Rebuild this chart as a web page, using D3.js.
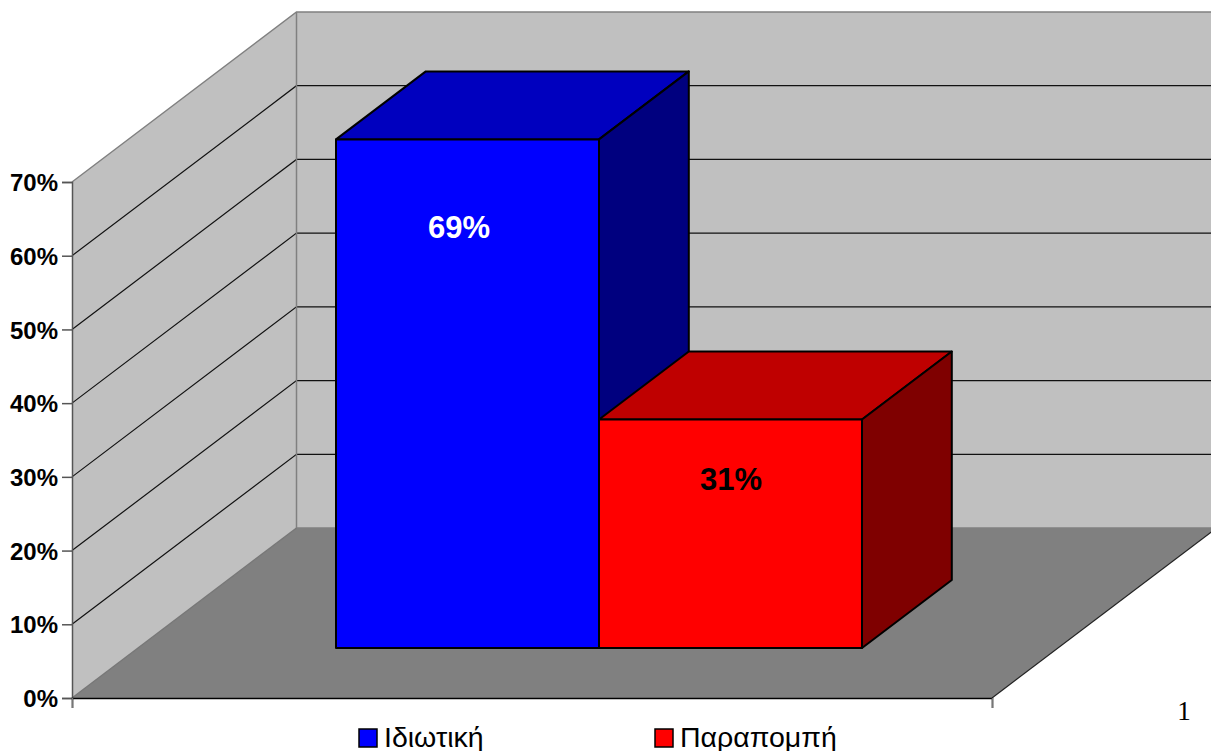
<!DOCTYPE html>
<html>
<head>
<meta charset="utf-8">
<script src="https://cdn.jsdelivr.net/npm/d3@7"></script>
<style>
html, body { margin: 0; padding: 0; background: #fff; overflow: hidden; }
svg { display: block; }
text { font-family: "Liberation Sans", Arial, sans-serif; }
</style>
</head>
<body>
<div id="chart"></div>
<script>
const categories = ['Ιδιωτική', 'Παραπομπή'];
const values = [0.69, 0.31];
const barColors = ['#0000ff', '#ff0000'];
const topColors = ['#0000bf', '#bf0000'];
const sideColors = ['#00007f', '#7f0000'];
const labelColors = ['#ffffff', '#000000'];
const yTicks = [0, 0.1, 0.2, 0.3, 0.4, 0.5, 0.6, 0.7];
const pageNumber = '1';

let svg = d3.select('#chart').append('svg')
    .attr('width', 1211)
    .attr('height', 751);

// Scales, y and x on the front plane, z runs from front to back of the box
let y = d3.scaleLinear().domain([0, 0.7]).range([698, 182]);
let x = d3.scaleLinear().domain([0, 1]).range([72, 992]);
let zx = d3.scaleLinear().domain([0, 1]).range([0, 224.5]);
let zy = d3.scaleLinear().domain([0, 1]).range([0, -170]);
let band = d3.scaleBand().domain(categories).range([270, 796]);

// bars stand in this part of the depth
let zFront = 0.294;
let zBack = 0.694;

function pt(px, v, z) {
    return [px + zx(z), y(v) + zy(z)];
}
let poly = d3.line();
function face(points) {
    return poly(points) + 'Z';
}

let x0 = x(0), x1 = x(1);
let yMax = y.domain()[1];

// Walls and floor
svg.append('path')
    .attr('d', face([pt(x0, 0, 0), pt(x0, yMax, 0), pt(x0, yMax, 1), pt(x0, 0, 1)]))
    .attr('fill', '#c0c0c0');
svg.append('path')
    .attr('d', face([pt(x0, 0, 1), pt(x0, yMax, 1), pt(x1, yMax, 1), pt(x1, 0, 1)]))
    .attr('fill', '#c0c0c0');
svg.append('path')
    .attr('d', face([pt(x0, 0, 0), pt(x1, 0, 0), pt(x1, 0, 1), pt(x0, 0, 1)]))
    .attr('fill', '#808080');

// Grid lines on both walls
let grid = svg.append('g').attr('fill', 'none').attr('stroke', '#111').attr('stroke-width', 1.2);
yTicks.filter(function (t) { return t > 0 && t < yMax; }).forEach(function (t) {
    grid.append('path').attr('d', poly([pt(x0, t, 0), pt(x0, t, 1), pt(x1, t, 1)]));
});

// Wall edges
let edges = svg.append('g').attr('fill', 'none').attr('stroke', '#808080').attr('stroke-width', 1.5);
edges.append('path').attr('d', poly([pt(x0, yMax, 0), pt(x0, yMax, 1), pt(x1, yMax, 1)]));
edges.append('path').attr('d', poly([pt(x0, yMax, 1), pt(x0, 0, 1), pt(x1, 0, 1)]));
edges.append('path').attr('d', poly([pt(x0, 0, 0), pt(x0, 0, 1)])).attr('stroke', '#777');
svg.append('path')
    .attr('d', poly([pt(x1, 0, 0), pt(x1, 0, 1)]))
    .attr('fill', 'none').attr('stroke', '#222').attr('stroke-width', 1.2);

// Bars
categories.forEach(function (c, i) {
    let left = band(c), right = left + band.bandwidth(), v = values[i];
    let g = svg.append('g').attr('stroke', '#000').attr('stroke-width', 2).attr('stroke-linejoin', 'round');
    g.append('path')
        .attr('d', face([pt(left, v, zFront), pt(left, v, zBack), pt(right, v, zBack), pt(right, v, zFront)]))
        .attr('fill', topColors[i]);
    g.append('path')
        .attr('d', face([pt(right, 0, zFront), pt(right, v, zFront), pt(right, v, zBack), pt(right, 0, zBack)]))
        .attr('fill', sideColors[i]);
    g.append('path')
        .attr('d', face([pt(left, 0, zFront), pt(left, v, zFront), pt(right, v, zFront), pt(right, 0, zFront)]))
        .attr('fill', barColors[i]);
});

// Bar labels
let labelX = d3.scalePoint().domain(categories).range([459, 731]);
let labelY = d3.scaleLinear().domain([0.31, 0.69]).range([490, 238]);
svg.selectAll('.bar-label').data(values).enter().append('text')
    .attr('class', 'bar-label')
    .attr('x', function (d, i) { return labelX(categories[i]); })
    .attr('y', function (d) { return labelY(d); })
    .attr('text-anchor', 'middle')
    .attr('font-size', '31px')
    .attr('font-weight', 'bold')
    .attr('fill', function (d, i) { return labelColors[i]; })
    .text(d3.format('.0%'));

// Y axis
let yAxis = svg.append('g')
    .attr('transform', 'translate(' + x0 + ',0)')
    .call(d3.axisLeft(y).tickValues(yTicks).tickFormat(d3.format('.0%')).tickSize(10).tickPadding(4));
yAxis.select('.domain').attr('stroke', '#555').attr('stroke-width', 1.5);
yAxis.selectAll('.tick line').attr('stroke', '#555').attr('stroke-width', 1.5);
yAxis.selectAll('text')
    .attr('font-family', '"Liberation Sans", Arial, sans-serif')
    .attr('font-size', '24px')
    .attr('font-weight', 'bold')
    .attr('fill', '#000')
    .attr('y', 1);

// X axis, only the two end ticks
let xAxis = svg.append('g')
    .attr('transform', 'translate(0,' + y(0) + ')')
    .call(d3.axisBottom(x).tickValues([0, 1]).tickFormat('').tickSize(10));
xAxis.select('.domain').attr('stroke', '#000').attr('stroke-width', 1.5);
xAxis.selectAll('.tick line').attr('stroke', '#777').attr('stroke-width', 1.5);

// Legend
let legendX = d3.scalePoint().domain(categories).range([359, 655]);
let legend = svg.selectAll('.legend').data(categories).enter().append('g')
    .attr('class', 'legend')
    .attr('transform', function (d) { return 'translate(' + legendX(d) + ',729)'; });
legend.append('rect')
    .attr('width', 18)
    .attr('height', 18)
    .attr('fill', function (d, i) { return barColors[i]; })
    .attr('stroke', '#000')
    .attr('stroke-width', 1.5);
legend.append('text')
    .attr('x', 25)
    .attr('y', 18)
    .attr('font-size', '28.5px')
    .attr('fill', '#000')
    .text(function (d) { return d; });

svg.append('text')
    .attr('x', 1184)
    .attr('y', 720)
    .attr('text-anchor', 'middle')
    .attr('font-size', '27px')
    .style('font-family', '"Liberation Serif", "Times New Roman", serif')
    .attr('fill', '#000')
    .text(pageNumber);
</script>
</body>
</html>
